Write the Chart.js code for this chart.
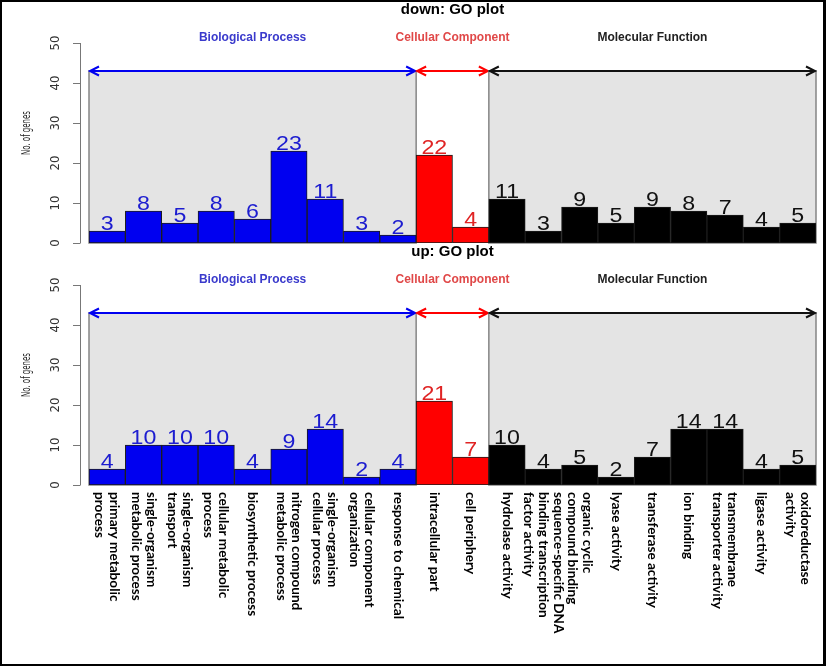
<!DOCTYPE html>
<html>
<head>
<meta charset="utf-8">
<script src="https://cdn.jsdelivr.net/npm/chart.js@4.4.1/dist/chart.umd.min.js"></script>
<style>
    html, body { margin: 0; padding: 0; background: #fff; }
    body { position: relative; width: 826px; height: 666px; overflow: hidden; }
    canvas { position: absolute; left: 0; }
    #frame { position: absolute; left: 0; top: 0; width: 826px; height: 666px; box-sizing: border-box;
             border: 2px solid #000; border-right-width: 3px; pointer-events: none; }
</style>
</head>
<body>
<canvas id="downChart" width="826" height="252" style="top:0"></canvas>
<canvas id="upChart" width="826" height="422" style="top:244px"></canvas>
<div id="frame"></div>
<script>
// GO categories, label lines as they are wrapped in the plot
const categories = [
    ['primary metabolic', 'process'],
    ['single-organism', 'metabolic process'],
    ['single-organism', 'transport'],
    ['cellular metabolic', 'process'],
    ['biosynthetic process'],
    ['nitrogen compound', 'metabolic process'],
    ['single-organism', 'cellular process'],
    ['cellular component', 'organization'],
    ['response to chemical'],
    ['intracellular part'],
    ['cell periphery'],
    ['hydrolase activity'],
    ['sequence-specific DNA', 'binding transcription', 'factor activity'],
    ['organic cyclic', 'compound binding'],
    ['lyase activity'],
    ['transferase activity'],
    ['ion binding'],
    ['transmembrane', 'transporter activity'],
    ['ligase activity'],
    ['oxidoreductase', 'activity']
];

const groupNames = ['Biological Process', 'Cellular Component', 'Molecular Function'];
const groupSizes = [9, 2, 9];

const downCounts = [3, 8, 5, 8, 6, 23, 11, 3, 2, 22, 4, 11, 3, 9, 5, 9, 8, 7, 4, 5];
const upCounts = [4, 10, 10, 10, 4, 9, 14, 2, 4, 21, 7, 10, 4, 5, 2, 7, 14, 14, 4, 5];

const yTicks = [0, 10, 20, 30, 40, 50];
const arrowLevel = 43;

const barColors = ['#0000f0', '#ff0000', '#000000'];
const textColors = ['#1c1cd0', '#e02424', '#111111'];
const titleColors = ['#3a3acc', '#e04848', '#222222'];
const shaded = [true, false, true];

// group index for each bar
const groupOf = [];
groupSizes.forEach((n, g) => { for (let i = 0; i < n; i++) groupOf.push(g); });

function drawArrowHead(ctx, x, y, dir) {
    ctx.beginPath();
    ctx.moveTo(x + dir * 9, y - 4.5);
    ctx.lineTo(x, y);
    ctx.lineTo(x + dir * 9, y + 4.5);
    ctx.stroke();
}

// rotated text squeezed/stretched to a given length along its direction
function rotatedText(ctx, text, x, y, angle, length) {
    ctx.save();
    ctx.translate(x, y);
    ctx.rotate(angle);
    if (length) ctx.scale(length / ctx.measureText(text).width, 1);
    ctx.fillText(text, 0, 0);
    ctx.restore();
}

const groupPlugin = {
    id: 'groups',
    beforeDatasetsDraw(chart) {
        const { ctx, scales: { x, y }, chartArea } = chart;
        const half = (x.getPixelForValue(1) - x.getPixelForValue(0)) / 2;
        const top = y.getPixelForValue(arrowLevel);
        const bottom = y.getPixelForValue(0);
        let start = 0;
        ctx.save();
        groupSizes.forEach((n, g) => {
            const left = x.getPixelForValue(start) - half;
            const right = x.getPixelForValue(start + n - 1) + half;
            if (shaded[g]) {
                ctx.fillStyle = '#e4e4e4';
                ctx.fillRect(left, top, right - left, bottom - top);
                ctx.strokeStyle = '#858585';
                ctx.lineWidth = 1.5;
                ctx.strokeRect(left, top, right - left, bottom - top);
            }
            // double arrow
            ctx.strokeStyle = barColors[g] === '#000000' ? '#111' : barColors[g];
            ctx.lineWidth = 2;
            ctx.beginPath();
            ctx.moveTo(left + 1, top);
            ctx.lineTo(right - 1, top);
            ctx.stroke();
            drawArrowHead(ctx, left + 1, top, 1);
            drawArrowHead(ctx, right - 1, top, -1);
            // section title
            ctx.fillStyle = titleColors[g];
            ctx.font = 'bold 12px "Liberation Sans", Arial, sans-serif';
            ctx.textAlign = 'center';
            ctx.textBaseline = 'middle';
            ctx.fillText(groupNames[g], (left + right) / 2, chartArea.top - 5.5);
            start += n;
        });
        ctx.restore();
    },
    afterDatasetsDraw(chart) {
        const { ctx } = chart;
        const values = chart.data.datasets[0].data;
        const meta = chart.getDatasetMeta(0);
        ctx.save();
        ctx.font = '20px "Liberation Sans", Arial, sans-serif';
        ctx.textAlign = 'center';
        ctx.textBaseline = 'alphabetic';
        meta.data.forEach((bar, i) => {
            ctx.fillStyle = textColors[groupOf[i]];
            ctx.save();
            ctx.translate(bar.x, bar.y - 1);
            ctx.scale(1.16, 1);
            ctx.fillText(String(values[i]), 0, 0);
            ctx.restore();
        });
        ctx.restore();
    },
    afterDraw(chart) {
        const { ctx, scales: { x, y }, chartArea } = chart;
        const axisX = chartArea.left - 9;
        ctx.save();
        // R style y axis
        ctx.strokeStyle = '#777';
        ctx.lineWidth = 1;
        ctx.beginPath();
        ctx.moveTo(axisX + 0.5, y.getPixelForValue(0));
        ctx.lineTo(axisX + 0.5, y.getPixelForValue(50));
        yTicks.forEach(t => {
            const py = Math.round(y.getPixelForValue(t)) + 0.5;
            ctx.moveTo(axisX + 0.5, py);
            ctx.lineTo(axisX - 7, py);
        });
        ctx.stroke();
        ctx.fillStyle = '#333';
        ctx.font = '13px "Liberation Sans Narrow", "DejaVu Sans Condensed", sans-serif';
        ctx.textAlign = 'center';
        ctx.textBaseline = 'middle';
        yTicks.forEach(t => {
            rotatedText(ctx, String(t), axisX - 24, y.getPixelForValue(t), -Math.PI / 2);
        });
        ctx.fillStyle = '#222';
        ctx.font = '13px "Liberation Sans Narrow", "DejaVu Sans Condensed", sans-serif';
        rotatedText(ctx, 'No. of genes', axisX - 53, y.getPixelForValue(25) - 10, -Math.PI / 2, 44);

        // main title
        ctx.fillStyle = '#000';
        ctx.font = 'bold 15px "Liberation Sans", Arial, sans-serif';
        ctx.fillText(chart.options.plugins.goTitle, (chartArea.left + chartArea.right) / 2, chartArea.top - 33.5);

        // category labels (only bottom panel), rotated clockwise
        if (chart.options.plugins.goLabels) {
            ctx.fillStyle = '#000';
            ctx.font = 'bold 13.6px Lato, "Open Sans", sans-serif';
            ctx.textAlign = 'left';
            categories.forEach((lines, i) => {
                const cx = x.getPixelForValue(i);
                lines.forEach((line, j) => {
                    const off = ((lines.length - 1) / 2 - j) * 15;
                    rotatedText(ctx, line, cx + off, y.getPixelForValue(0) + 7, Math.PI / 2);
                });
            });
        }
        ctx.restore();
    }
};

function makeChart(id, counts, title, withLabels, padding) {
    return new Chart(document.getElementById(id), {
        type: 'bar',
        data: {
            labels: categories.map(c => c.join(' ')),
            datasets: [{
                data: counts,
                backgroundColor: groupOf.map(g => barColors[g]),
                borderColor: '#1c1c1c',
                borderWidth: 1,
                borderSkipped: false,
                categoryPercentage: 1,
                barPercentage: 1
            }]
        },
        options: {
            responsive: false,
            animation: false,
            layout: { padding },
            scales: {
                x: { display: false },
                y: { display: false, min: 0, max: 50 }
            },
            plugins: {
                legend: { display: false },
                tooltip: { enabled: false },
                goTitle: title,
                goLabels: withLabels
            }
        },
        plugins: [groupPlugin]
    });
}

makeChart('downChart', downCounts, 'down: GO plot', false, { left: 89, right: 10, top: 43, bottom: 9 });
makeChart('upChart', upCounts, 'up: GO plot', true, { left: 89, right: 10, top: 41, bottom: 181 });
</script>
</body>
</html>
